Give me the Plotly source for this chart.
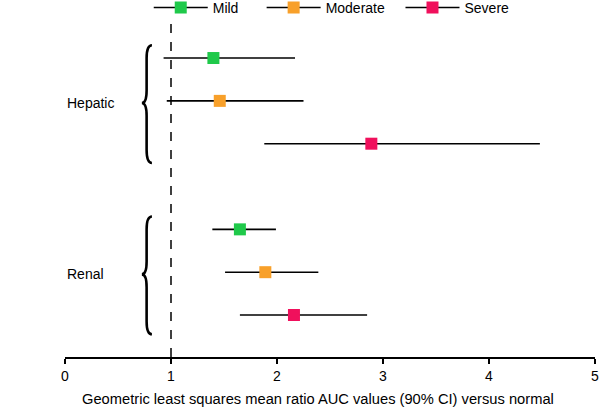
import plotly.graph_objects as go

# ---------------- data ----------------
groups = ["Hepatic", "Hepatic", "Hepatic", "Renal", "Renal", "Renal"]
severity = ["Mild", "Moderate", "Severe", "Mild", "Moderate", "Severe"]
row_pos = [7, 6, 5, 3, 2, 1]
point_est = [1.40, 1.46, 2.89, 1.65, 1.89, 2.16]
ci_low = [0.93, 0.96, 1.88, 1.39, 1.51, 1.65]
ci_high = [2.17, 2.25, 4.48, 1.99, 2.39, 2.85]

sev_order = ["Mild", "Moderate", "Severe"]
sev_colors = {"Mild": "#1fc94a", "Moderate": "#f8a02a", "Severe": "#f0105c"}
group_labels = ["Hepatic", "Renal"]
x_ticks = [0, 1, 2, 3, 4, 5]
x_title = "Geometric least squares mean ratio AUC values (90% CI) versus normal"

FONT = "Liberation Sans, Arial, Helvetica, sans-serif"

fig = go.Figure()

# CI lines + markers per severity
for sev in sev_order:
    idx = [i for i, s in enumerate(severity) if s == sev]
    xs = [point_est[i] for i in idx]
    ys = [row_pos[i] for i in idx]
    plus = [ci_high[i] - point_est[i] for i in idx]
    minus = [point_est[i] - ci_low[i] for i in idx]
    fig.add_trace(go.Scatter(
        x=xs, y=ys, mode="markers",
        marker=dict(symbol="square", size=12, color=sev_colors[sev], line=dict(width=0)),
        error_x=dict(type="data", symmetric=False, array=plus, arrayminus=minus,
                     color="black", thickness=1.6, width=0),
        showlegend=False, hoverinfo="skip",
    ))

# legend entries, one legend box each
legend_ids = ["legend", "legend2", "legend3"]
legend_x = [0.158, 0.371, 0.633]
for sev, lid in zip(sev_order, legend_ids):
    fig.add_trace(go.Scatter(
        x=[None], y=[None], mode="lines+markers", name=sev, legend=lid,
        line=dict(color="black", width=1.6),
        marker=dict(symbol="square", size=12, color=sev_colors[sev]),
    ))

# reference line at 1
fig.add_shape(type="line", xref="x", yref="paper", x0=1, x1=1, y0=0, y1=1,
              line=dict(color="black", width=1.5, dash="dash"))


def brace_path(x_right, x_stem, x_tip, y_top, y_mid, y_bot, d):
    return (f"M{x_right},{y_top} Q{x_stem},{y_top} {x_stem},{y_top - d} "
            f"L{x_stem},{y_mid + d} Q{x_stem},{y_mid} {x_tip},{y_mid} "
            f"Q{x_stem},{y_mid} {x_stem},{y_mid - d} "
            f"L{x_stem},{y_bot + d} Q{x_stem},{y_bot} {x_right},{y_bot}")


for g in group_labels:
    rows = [row_pos[i] for i, gg in enumerate(groups) if gg == g]
    top, bot = max(rows) + 0.3, min(rows) - 0.45
    mid = (max(rows) + min(rows)) / 2 - 0.05
    fig.add_shape(type="path", xref="x", yref="y",
                  path=brace_path(0.82, 0.77, 0.725, top, mid, bot, 0.3),
                  line=dict(color="black", width=2.6))
    fig.add_annotation(x=0.0, y=mid, xref="x", yref="y", text=g, showarrow=False,
                       xanchor="left", yanchor="middle",
                       font=dict(family=FONT, size=14, color="black"))

# x-axis title (slightly left of plot centre, as in the reference)
fig.add_annotation(x=0.478, y=-0.125, xref="paper", yref="paper", text=x_title,
                   showarrow=False, xanchor="center", yanchor="middle",
                   font=dict(family=FONT, size=14.7, color="black"))

legend_common = dict(orientation="h", xanchor="left", y=1.036, yanchor="middle",
                     itemwidth=54, font=dict(family=FONT, size=14), bgcolor="rgba(0,0,0,0)")

fig.update_layout(
    width=600, height=409,
    margin=dict(l=65, r=5, t=20, b=52, autoexpand=False),
    plot_bgcolor="white", paper_bgcolor="white",
    font=dict(family=FONT, size=14, color="black"),
    showlegend=True,
    legend=dict(x=legend_x[0], **legend_common),
    legend2=dict(x=legend_x[1], **legend_common),
    legend3=dict(x=legend_x[2], **legend_common),
    xaxis=dict(range=[0, 5], tickvals=x_ticks, showline=True, linecolor="black", linewidth=1.5,
               ticks="outside", ticklen=5, tickcolor="black", tickwidth=1.5, showgrid=False,
               zeroline=False, automargin=False),
    yaxis=dict(range=[0.02, 7.888], visible=False, showgrid=False, zeroline=False),
)

fig.write_html("out.html", config={"displayModeBar": False},
               post_script="document.body.style.margin='0';")
